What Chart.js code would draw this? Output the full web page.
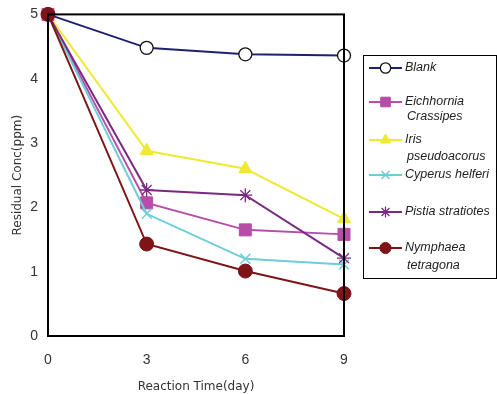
<!DOCTYPE html>
<html><head><meta charset="utf-8">
<script src="https://cdn.jsdelivr.net/npm/chart.js@4.4.1/dist/chart.umd.min.js"></script>
<style>html,body{margin:0;padding:0;background:#fff;}#wrap{width:497px;height:394px;position:relative;}</style>
</head><body>
<div id="wrap"><canvas id="c" width="497" height="394"></canvas></div>
<script>
const days = ['0','3','6','9'];
const seriesNames = [['Blank'],['Eichhornia','Crassipes'],['Iris','pseudoacorus'],['Cyperus helferi'],['Pistia stratiotes'],['Nymphaea','tetragona']];
const blank = [5, 4.48, 4.38, 4.36];
const eichhornia = [5, 2.07, 1.65, 1.58];
const iris = [5, 2.88, 2.60, 1.82];
const cyperus = [5, 1.90, 1.20, 1.11];
const pistia = [5, 2.27, 2.19, 1.21];
const nymphaea = [5, 1.43, 1.01, 0.66];
const yTicks = [0,1,2,3,4,5];

const styles = [
  {color:'#1d2170', fill:'#ffffff', border:'#111111', pt:'circle', r:6.5, bw:1.3},
  {color:'#b84ca9', fill:'#b84ca9', border:'#b84ca9', pt:'rect', r:8.5, bw:1},
  {color:'#efe934', fill:'#efe934', border:'#efe934', pt:'triangle', r:7.5, bw:1},
  {color:'#6dcdd8', fill:'#6dcdd8', border:'#6dcdd8', pt:'crossRot', r:7, bw:1.5},
  {color:'#7a2a80', fill:'#7a2a80', border:'#7a2a80', pt:'star', r:7, bw:1.3},
  {color:'#7d1518', fill:'#7d1518', border:'#7d1518', pt:'circle', r:7, bw:1}
];
const values = [blank, eichhornia, iris, cyperus, pistia, nymphaea];
const orders = [5,3,4,2,1,0];

const datasets = values.map((v,i)=>({
  label: seriesNames[i].join(' '),
  data: v,
  borderColor: styles[i].color,
  backgroundColor: styles[i].fill,
  pointBorderColor: styles[i].border,
  pointBackgroundColor: styles[i].fill,
  pointStyle: styles[i].pt,
  pointRadius: styles[i].r,
  pointBorderWidth: styles[i].bw,
  borderWidth: 2,
  tension: 0,
  clip: false,
  order: orders[i]
}));

const boxPlugin = {
  id:'box',
  afterDatasetsDraw(chart){
    const {ctx, chartArea:a} = chart;
    ctx.save();
    ctx.strokeStyle='#000'; ctx.lineWidth=2;
    ctx.strokeRect(a.left, a.top, a.right-a.left, a.bottom-a.top);
    ctx.restore();
  },
  afterDraw(chart){
    const ctx = chart.ctx;
    ctx.save();
    ctx.strokeStyle='#000'; ctx.lineWidth=1;
    ctx.strokeRect(363.5, 55.5, 133, 223);
    const rows = [[68],[102,117],[140,157],[175],[212],[248,266]];
    ctx.font = 'italic 12.5px "Liberation Sans", Arial, sans-serif';
    ctx.fillStyle = '#222';
    ctx.textBaseline = 'middle';
    rows.forEach((ys,i)=>{
      const s = styles[i];
      const y0 = ys[0];
      ctx.strokeStyle = s.color; ctx.lineWidth = 2;
      ctx.beginPath(); ctx.moveTo(369,y0); ctx.lineTo(402,y0); ctx.stroke();
      ctx.fillStyle = s.fill; ctx.strokeStyle = s.border; ctx.lineWidth = s.bw;
      Chart.helpers.drawPoint(ctx, {pointStyle:s.pt, radius:s.r*0.8, borderWidth:s.bw, rotation:0}, 385.5, y0);
      ctx.fillStyle = '#222';
      seriesNames[i].forEach((t,k)=>{ ctx.fillText(t, k===0?405:407, ys[k]); });
    });
    ctx.restore();
  }
};

new Chart(document.getElementById('c'), {
  type:'line',
  data:{labels: days, datasets},
  options:{
    responsive:false, animation:false, devicePixelRatio:1,
    layout:{padding:{left:0, top:14, right:153, bottom:0}},
    plugins:{legend:{display:false}, tooltip:{enabled:false}},
    scales:{
      x:{
        type:'category', offset:false,
        grid:{display:false, drawTicks:true, tickLength:4, tickColor:'#000'},
        border:{color:'#000', width:2},
        ticks:{color:'#333', font:{size:14, family:'"Liberation Sans", Arial, sans-serif'}, padding:12, maxRotation:0},
        title:{display:true, text:'Reaction Time(day)', color:'#333', font:{size:12, family:'"DejaVu Sans", sans-serif'}, padding:{top:2,bottom:0}},
        afterFit(s){ s.height = 58; }
      },
      y:{
        min:0, max:5,
        afterBuildTicks(s){ s.ticks = yTicks.map(v=>({value:v})); },
        grid:{display:false, drawTicks:true, tickLength:4, tickColor:'#000'},
        border:{color:'#000', width:2},
        ticks:{color:'#333', font:{size:14, family:'"Liberation Sans", Arial, sans-serif'}, padding:6},
        title:{display:true, text:'Residual Conc(ppm)', color:'#333', font:{size:12, family:'"DejaVu Sans", sans-serif'}, padding:{top:11,bottom:4}},
        afterFit(s){ s.width = 48; }
      }
    }
  },
  plugins:[boxPlugin]
});
</script>
</body></html>
